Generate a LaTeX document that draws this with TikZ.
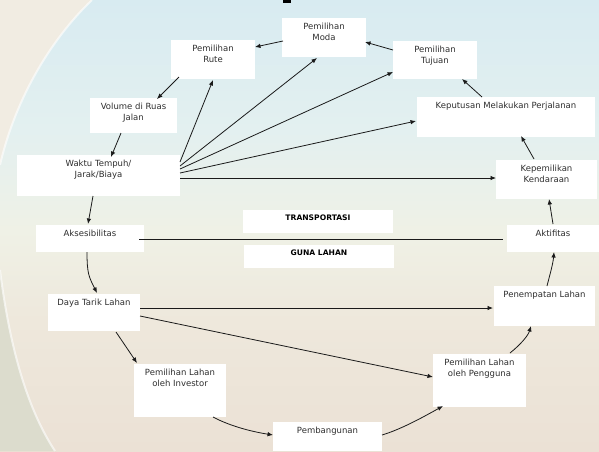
\documentclass[tikz,border=0pt]{standalone}
\usepackage{fontspec}
\setmainfont{DejaVu Sans}
\usetikzlibrary{arrows.meta}
\definecolor{bgtop}{HTML}{D8EBF1}
\definecolor{bgtwo}{HTML}{E3F0F0}
\definecolor{bgmid}{HTML}{EFF1E6}
\definecolor{bgfour}{HTML}{EEE8DC}
\definecolor{bgbot}{HTML}{EBE1D5}
\definecolor{swtop}{HTML}{F1ECE2}
\definecolor{swbot}{HTML}{DCDCCD}
\definecolor{txt}{HTML}{2E2E2E}
\definecolor{ln}{HTML}{1A1A1A}
\pgfdeclareverticalshading{bgshade}{100bp}{color(0bp)=(bgbot); color(25bp)=(bgbot); color(39.5bp)=(bgfour); color(49.5bp)=(bgmid); color(60.6bp)=(bgtwo); color(75bp)=(bgtop); color(100bp)=(bgtop)}
\begin{document}
\begin{tikzpicture}[x=1pt,y=-1pt,
  box/.style={fill=white, anchor=north west, inner sep=0pt, outer sep=0pt},
  lbl/.style={anchor=north, yshift=-4.5pt, align=center, inner sep=0pt, font=\fontsize{8.5}{11}\selectfont, text=txt},
  blbl/.style={anchor=north, yshift=-5pt, align=center, inner sep=0pt, font=\fontsize{7.6}{9}\selectfont\bfseries, text=black},
  conn/.style={draw=ln, line width=0.8pt},
  arr/.style={conn, -{Latex[length=5.5pt,width=4.5pt]}},
]
\useasboundingbox (0,0) rectangle (599,451);
% background
\shade[shading=bgshade] (0,0) rectangle (599,451);
\fill[swtop] (0,0) -- (92,0) .. controls (50,40) and (15,100) .. (0,165) -- cycle;
\draw[white, opacity=0.6, line width=2pt] (92,0) .. controls (50,40) and (15,100) .. (0,165);
\fill[swbot] (0,270) .. controls (10,350) and (28,410) .. (55,451) -- (0,451) -- cycle;
\draw[white, opacity=0.6, line width=2pt] (0,270) .. controls (10,350) and (28,410) .. (55,451);
\fill[black] (283,0) rectangle (291,3);

% boxes
\node[box, minimum width=84pt, minimum height=39pt, label={[lbl]north:{Pemilihan\\Moda}}] (moda) at (282,18) {};
\node[box, minimum width=84pt, minimum height=39pt, label={[lbl]north:{Pemilihan\\Rute}}] (rute) at (171,40) {};
\node[box, minimum width=84pt, minimum height=38pt, label={[lbl]north:{Pemilihan\\Tujuan}}] (tujuan) at (393,41) {};
\node[box, minimum width=178pt, minimum height=40pt, label={[lbl]north:{Keputusan Melakukan Perjalanan}}] (keputusan) at (417,97) {};
\node[box, minimum width=101pt, minimum height=39pt, label={[lbl]north:{Kepemilikan\\Kendaraan}}] (kepemilikan) at (496,160) {};
\node[box, minimum width=92pt, minimum height=27pt, label={[lbl]north:{Aktifitas}}] (aktifitas) at (507,225) {};
\node[box, minimum width=101pt, minimum height=40pt, label={[lbl]north:{Penempatan Lahan}}] (penempatan) at (494,286) {};
\node[box, minimum width=93pt, minimum height=53pt, label={[lbl]north:{Pemilihan Lahan\\oleh Pengguna}}] (pengguna) at (433,354) {};
\node[box, minimum width=109pt, minimum height=29pt, label={[lbl]north:{Pembangunan}}] (pemb) at (273,422) {};
\node[box, minimum width=92pt, minimum height=53pt, label={[lbl]north:{Pemilihan Lahan\\oleh Investor}}] (investor) at (134,364) {};
\node[box, minimum width=92pt, minimum height=37pt, label={[lbl]north:{Daya Tarik Lahan}}] (daya) at (48,294) {};
\node[box, minimum width=108pt, minimum height=27pt, label={[lbl]north:{Aksesibilitas}}] (akses) at (36,225) {};
\node[box, minimum width=163pt, minimum height=41pt, label={[lbl]north:{Waktu Tempuh/\\Jarak/Biaya}}] (waktu) at (17,155) {};
\node[box, minimum width=87pt, minimum height=35pt, label={[lbl]north:{Volume di Ruas\\Jalan}}] (volume) at (90,98) {};
\node[box, minimum width=150pt, minimum height=23pt, label={[blbl]north:{TRANSPORTASI}}] (transp) at (243,210) {};
\node[box, minimum width=150pt, minimum height=23pt, label={[blbl]north:{GUNA LAHAN}}] (guna) at (244,245) {};

% connectors
\draw[arr] ([shift={(1,23)}]moda.north west) -- ([shift={(84,7)}]rute.north west);
\draw[arr] ([shift={(0,9)}]tujuan.north west) -- ([shift={(83,24)}]moda.north west);
\draw[arr] ([shift={(8,37)}]rute.north west) -- ([shift={(67,1)}]volume.north west);
\draw[arr] ([shift={(31,35)}]volume.north west) -- ([shift={(94,2)}]waktu.north west);
\draw[arr] ([shift={(76,41)}]waktu.north west) -- ([shift={(52,-1)}]akses.north west);
\draw[arr] ([shift={(51,27)}]akses.north west) .. controls +(0,22) and +(-8,-16) .. ([shift={(49,-1)}]daya.north west);
\draw[arr] ([shift={(68,38)}]daya.north west) -- ([shift={(3,-1)}]investor.north west);
\draw[arr] ([shift={(79,53)}]investor.north west) .. controls +(15,8) and +(-25,-4) .. ([shift={(0,13)}]pemb.north west);
\draw[arr] ([shift={(109,13)}]pemb.north west) .. controls +(20,-6) and +(-18,10) .. ([shift={(10,52)}]pengguna.north west);
\draw[arr] ([shift={(77,-1)}]pengguna.north west) .. controls +(10,-8) and +(-3,10) .. ([shift={(37,40)}]penempatan.north west);
\draw[arr] ([shift={(53,0)}]penempatan.north west) .. controls +(3,-12) and +(-1,12) .. ([shift={(47,27)}]aktifitas.north west);
\draw[arr] ([shift={(46,-1)}]aktifitas.north west) -- ([shift={(53,39)}]kepemilikan.north west);
\draw[arr] ([shift={(38,-1)}]kepemilikan.north west) -- ([shift={(104,39)}]keputusan.north west);
\draw[arr] ([shift={(65,0)}]keputusan.north west) -- ([shift={(69,38)}]tujuan.north west);
\draw[arr] ([shift={(163,7)}]waktu.north west) -- ([shift={(42,40)}]rute.north west);
\draw[arr] ([shift={(163,11)}]waktu.north west) -- ([shift={(35,40)}]moda.north west);
\draw[arr] ([shift={(163,14)}]waktu.north west) -- ([shift={(0,31)}]tujuan.north west);
\draw[arr] ([shift={(163,18)}]waktu.north west) -- ([shift={(-1,24)}]keputusan.north west);
\draw[arr] ([shift={(163,23)}]waktu.north west) -- ([shift={(0,18)}]kepemilikan.north west);
\draw[conn] ([shift={(103,14)}]akses.north west) -- ([shift={(-4,14)}]aktifitas.north west);
\draw[arr] ([shift={(92,14)}]daya.north west) -- ([shift={(-1,22)}]penempatan.north west);
\draw[arr] ([shift={(92,22)}]daya.north west) -- ([shift={(0,23)}]pengguna.north west);
\end{tikzpicture}
\end{document}
